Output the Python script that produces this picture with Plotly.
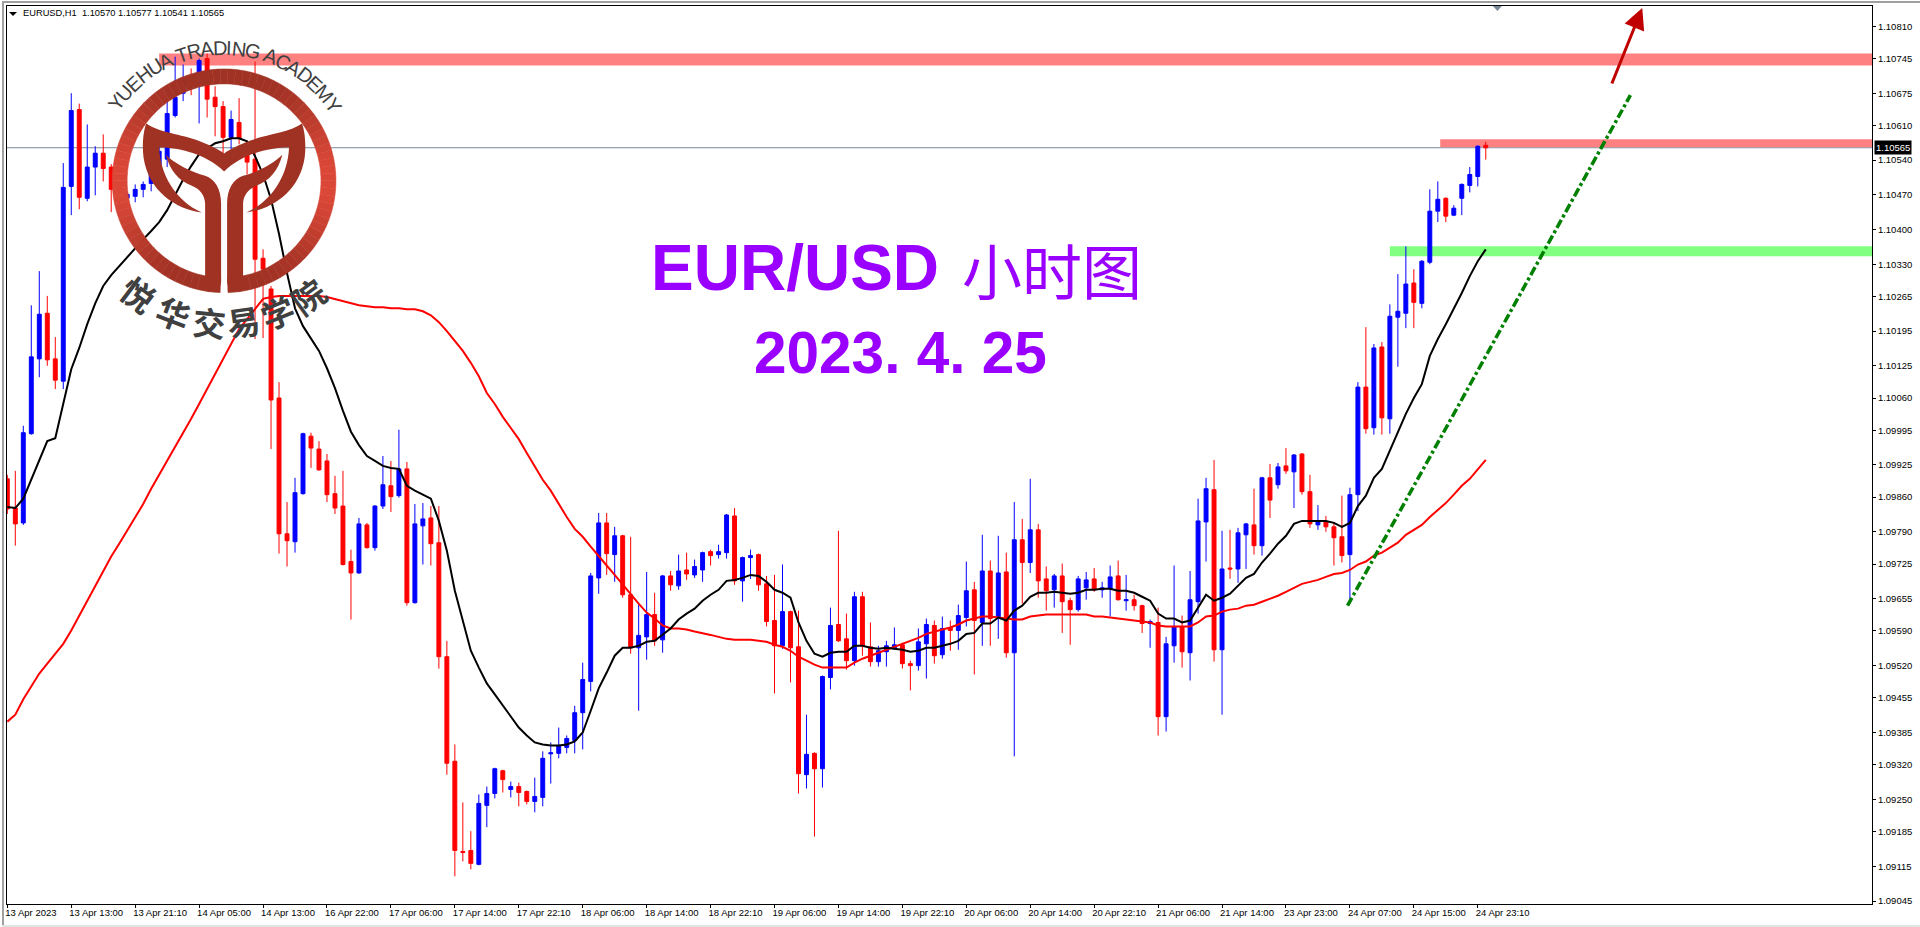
import numpy as np
import plotly.graph_objects as go

# EURUSD H1 candles, prices in 1e-5 units
opens = [109897,109838,109808,109988,110139,110231,110139,110094,110487,110642,110463,110526,110554,110526,110487,110463,110467,110481,110493,110517,
 110542,110630,110675,110709,110713,110745,110667,110648,110586,110616,110550,110542,110342,110280,110060,109786,109770,109867,109983,109957,
 109933,109867,109842,109730,109707,109804,109758,109842,109883,109863,109917,109647,109802,109818,109768,109538,109327,109145,109147,109119,
 109238,109262,109308,109270,109276,109266,109246,109254,109342,109343,109355,109369,109425,109488,109697,109808,109744,109782,109663,109556,
 109578,109623,109572,109701,109681,109713,109703,109713,109750,109744,109748,109822,109691,109738,109744,109685,109611,109560,109629,109558,
 109300,109343,109312,109496,109603,109574,109530,109659,109558,109528,109548,109554,109562,109524,109520,109564,109601,109542,109597,109591,
 109617,109673,109607,109711,109617,109709,109546,109774,109728,109794,109695,109673,109701,109651,109633,109677,109695,109673,109675,109701,
 109651,109653,109641,109605,109607,109417,109560,109599,109546,109649,109810,109875,109552,109717,109715,109784,109804,109762,109899,109885,
 109923,109911,109947,109871,109804,109810,109800,109780,109744,109865,110082,110000,110163,110018,110223,110231,110292,110251,110334,110437,
 110463,110429,110463,110489,110507,110570]
highs = [109905,109913,110004,110247,110316,110266,110183,110534,110675,110654,110612,110568,110592,110532,110497,110477,110491,110497,110528,110578,
 110659,110749,110733,110725,110745,110755,110689,110659,110640,110665,110568,110739,110360,110286,110092,109850,109899,109990,109990,109973,
 109947,109903,109913,109754,109818,109808,109844,109943,109933,109996,109931,109846,109848,109842,109842,109570,109361,109244,109186,109260,
 109276,109314,109310,109286,109284,109268,109294,109347,109365,109395,109379,109439,109526,109707,109828,109828,109800,109784,109780,109645,
 109709,109667,109703,109711,109744,109748,109734,109750,109754,109764,109826,109838,109740,109754,109746,109701,109703,109724,109631,109631,
 109421,109345,109500,109637,109792,109625,109669,109669,109607,109560,109570,109597,109566,109530,109595,109615,109611,109619,109611,109643,
 109730,109689,109784,109732,109782,109748,109850,109816,109897,109806,109720,109705,109726,109657,109701,109709,109717,109689,109722,109732,
 109703,109663,109643,109613,109637,109578,109722,109621,109711,109857,109899,109935,109792,109794,109798,109808,109877,109901,109927,109929,
 109959,109947,109949,109905,109844,109822,109810,109863,109879,110092,110203,110169,110173,110249,110310,110366,110320,110338,110481,110497,
 110465,110449,110493,110526,110570,110577]
lows = [109826,109762,109804,109986,110102,110125,110078,110078,110429,110441,110457,110469,110497,110435,110457,110459,110455,110465,110477,110515,
 110526,110626,110659,110671,110614,110626,110588,110554,110562,110572,110511,110179,110181,109957,109746,109720,109748,109865,109919,109913,
 109850,109826,109722,109613,109705,109756,109752,109836,109830,109859,109641,109645,109724,109722,109514,109300,109095,109125,109109,109117,
 109194,109252,109264,109254,109236,109240,109224,109236,109282,109333,109343,109343,109351,109468,109665,109703,109689,109657,109544,109429,
 109532,109560,109546,109671,109673,109693,109697,109689,109722,109736,109736,109683,109649,109695,109671,109599,109464,109554,109486,109262,
 109272,109175,109274,109472,109568,109512,109520,109540,109518,109518,109518,109552,109514,109470,109510,109494,109524,109534,109550,109552,
 109599,109502,109560,109560,109574,109536,109337,109645,109707,109657,109631,109637,109586,109562,109629,109653,109669,109657,109619,109651,
 109631,109631,109586,109556,109379,109387,109526,109516,109490,109625,109730,109528,109421,109695,109687,109715,109744,109742,109818,109877,
 109907,109838,109865,109798,109794,109790,109722,109728,109651,109832,109988,109986,109986,109988,110123,110201,110201,110241,110330,110415,
 110415,110427,110429,110475,110487,110541]
closes = [109836,109806,109990,110143,110229,110137,110096,110485,110640,110465,110526,110554,110523,110481,110473,110471,110481,110491,110514,110558,
 110634,110667,110703,110689,110741,110663,110648,110586,110622,110584,110536,110340,110320,110056,109786,109772,109869,109988,109959,109915,
 109865,109838,109724,109707,109806,109758,109842,109885,109861,109917,109647,109806,109816,109766,109538,109323,109147,109143,109121,109242,
 109262,109312,109290,109276,109264,109246,109256,109333,109344,109359,109373,109425,109492,109701,109808,109746,109782,109663,109556,109581,
 109623,109570,109701,109683,109711,109705,109720,109748,109742,109750,109824,109691,109738,109742,109683,109609,109560,109629,109556,109302,
 109341,109312,109498,109601,109570,109530,109659,109560,109528,109550,109560,109562,109524,109520,109568,109603,109540,109595,109591,109621,
 109671,109611,109711,109615,109707,109546,109774,109728,109794,109691,109671,109701,109649,109633,109695,109693,109673,109677,109699,109653,
 109653,109641,109605,109609,109417,109564,109599,109548,109653,109812,109877,109552,109715,109715,109788,109806,109762,109899,109854,109921,
 109913,109945,109871,109806,109812,109800,109778,109742,109865,110082,109998,110161,110020,110225,110235,110290,110253,110336,110437,110461,
 110427,110443,110491,110511,110568,110565]

ma_fast = [109840,109838,109857,109897,109933,109973,109979,110048,110118,110161,110209,110251,110286,110308,110326,110346,110362,110380,110397,110415,
 110439,110471,110501,110528,110552,110564,110574,110578,110584,110584,110578,110548,110511,110461,110391,110312,110241,110205,110181,110155,
 110120,110080,110034,109992,109965,109943,109933,109923,109919,109917,109883,109873,109865,109857,109812,109752,109671,109611,109550,109516,
 109484,109462,109439,109417,109395,109379,109365,109361,109359,109359,109361,109367,109385,109429,109474,109506,109540,109556,109556,109560,
 109568,109570,109582,109595,109613,109625,109635,109651,109663,109673,109691,109693,109697,109703,109701,109689,109673,109667,109657,109607,
 109570,109544,109538,109546,109548,109548,109560,109560,109556,109554,109556,109554,109552,109548,109550,109556,109556,109560,109564,109570,
 109584,109586,109605,109605,109617,109611,109631,109641,109659,109667,109667,109669,109667,109665,109667,109673,109673,109675,109675,109671,
 109671,109667,109659,109651,109625,109615,109615,109607,109611,109637,109663,109651,109657,109665,109681,109697,109705,109728,109746,109766,
 109782,109806,109812,109812,109812,109812,109808,109800,109808,109842,109863,109899,109917,109955,109992,110028,110060,110088,110145,110179,
 110209,110239,110272,110306,110336,110360]
ma_slow = [109407,109421,109452,109478,109504,109524,109544,109564,109591,109621,109651,109681,109711,109740,109766,109792,109818,109846,109877,109905,
 109933,109959,109988,110018,110048,110078,110108,110141,110171,110199,110219,110239,110260,110264,110266,110266,110266,110266,110266,110266,
 110264,110260,110255,110251,110247,110245,110243,110243,110241,110241,110239,110239,110235,110227,110213,110195,110175,110155,110131,110104,
 110070,110048,110022,110000,109977,109949,109921,109895,109873,109846,109820,109796,109780,109760,109742,109722,109703,109683,109665,109645,
 109627,109615,109601,109595,109595,109593,109589,109586,109582,109578,109574,109572,109572,109572,109570,109568,109562,109558,109550,109538,
 109530,109522,109516,109516,109516,109516,109526,109534,109540,109546,109552,109558,109564,109570,109576,109584,109589,109593,109597,109603,
 109611,109615,109619,109619,109617,109615,109613,109613,109619,109621,109623,109623,109623,109623,109623,109623,109619,109619,109617,109615,
 109613,109611,109609,109607,109601,109599,109599,109599,109599,109607,109619,109621,109629,109633,109635,109641,109643,109649,109655,109661,
 109669,109677,109685,109689,109693,109699,109705,109707,109713,109724,109730,109742,109748,109758,109768,109784,109794,109804,109820,109834,
 109848,109865,109883,109897,109915,109935]

y_ticks = [1.10810,1.10745,1.10675,1.10610,1.10540,1.10470,1.10400,1.10330,1.10265,1.10195,1.10125,1.10060,1.09995,1.09925,
 1.09860,1.09790,1.09725,1.09655,1.09590,1.09520,1.09455,1.09385,1.09320,1.09250,1.09185,1.09115,1.09045]
x_labels = ["13 Apr 2023","13 Apr 13:00","13 Apr 21:10","14 Apr 05:00","14 Apr 13:00","16 Apr 22:00","17 Apr 06:00","17 Apr 14:00",
 "17 Apr 22:10","18 Apr 06:00","18 Apr 14:00","18 Apr 22:10","19 Apr 06:00","19 Apr 14:00","19 Apr 22:10","20 Apr 06:00",
 "20 Apr 14:00","20 Apr 22:10","21 Apr 06:00","21 Apr 14:00","23 Apr 23:00","24 Apr 07:00","24 Apr 15:00","24 Apr 23:10"]

last_price = 1.10565
# (first candle, low, high, colour)
zones = [(19, 1.10731, 1.10755, "#FF8080"), (179.3, 1.10566, 1.10582, "#FF8080"), (173, 1.10346, 1.10366, "#80FF80")]
trend_x = [167.7, 203.1]
trend_y = [1.09641, 1.10671]

idx = list(range(len(opens)))
prices = lambda vals: [v / 1e5 for v in vals]
W, H = 1920, 927
L, R, T, B = 5, 48, 5, 23
FONT = "Liberation Sans"


def px(x):
    return (x - L) / (W - L - R)


def py(y):
    return (H - B - y) / (H - T - B)


fig = go.Figure()
fig.add_trace(go.Candlestick(
    x=idx, open=prices(opens), high=prices(highs), low=prices(lows), close=prices(closes),
    increasing=dict(line=dict(color="#0000FF", width=1), fillcolor="#0000FF"),
    decreasing=dict(line=dict(color="#FF0000", width=1), fillcolor="#FF0000"),
    whiskerwidth=0, hoverinfo="skip", showlegend=False,
))
fig.add_trace(go.Scatter(x=idx, y=prices(ma_slow), mode="lines", line=dict(color="#FF0000", width=2),
                         hoverinfo="skip", showlegend=False))
fig.add_trace(go.Scatter(x=idx, y=prices(ma_fast), mode="lines", line=dict(color="#000000", width=2),
                         hoverinfo="skip", showlegend=False))
fig.add_trace(go.Scatter(x=trend_x, y=trend_y, mode="lines",
                         line=dict(color="#008000", width=3.5, dash="9px,3px,3px,3px"),
                         hoverinfo="skip", showlegend=False))

shapes = []
for start, lo, hi, col in zones:
    shapes.append(dict(type="rect", xref="x", yref="y", x0=start, x1=233.4, y0=lo, y1=hi,
                       fillcolor=col, line_width=0, layer="below"))
shapes.append(dict(type="line", xref="paper", yref="y", x0=0, x1=1, y0=last_price, y1=last_price,
                   line=dict(color="#778899", width=1), layer="below"))


def tri(x, y, w, h, col):
    path = f"M {px(x - w)} {py(y)} L {px(x + w)} {py(y)} L {px(x)} {py(y + h)} Z"
    return dict(type="path", xref="paper", yref="paper", path=path, fillcolor=col, line_width=0)


shapes.append(tri(11, 11, 4, 4, "#000000"))
shapes.append(tri(1497, 5, 4.5, 5, "#778899"))

# window frame
for x0, x1, y0, y1, col in [(0, 2, 0, 927, "#A0A0A0"), (0, 1920, 0, 2, "#A0A0A0"), (0, 1920, 925, 927, "#E4E4E4")]:
    shapes.append(dict(type="rect", xref="paper", yref="paper", x0=px(x0), x1=px(x1), y0=py(y1), y1=py(y0),
                       fillcolor=col, line_width=0))

# logo ring, shaded by distance from the middle
cx, cy = 222.3, 180.0
r_out, r_in = 112.0, 97.0
steps = np.linspace(2, 358, 90)
for a0, a1 in zip(steps[:-1], steps[1:]):
    arc = np.radians(np.linspace(a0, a1, 4))
    xs = np.r_[cx + r_out * np.sin(arc), cx + r_in * np.sin(arc[::-1])]
    ys = np.r_[cy + r_out * np.cos(arc), cy + r_in * np.cos(arc[::-1])]
    t = abs(np.sin(np.radians((a0 + a1) / 2))) ** 4
    col = "rgb(%d,%d,%d)" % (160 + 60 * t, 50 + 22 * t, 36 + 20 * t)
    path = "M " + " L ".join(f"{px(a)} {py(b)}" for a, b in zip(xs, ys)) + " Z"
    shapes.append(dict(type="path", xref="paper", yref="paper", path=path, fillcolor=col,
                       line=dict(color=col, width=0.5)))

# ox head, traced in 3x zoom units, mirrored about x=667
head = [("M", 433, 368), ("C", 470, 395, 540, 400, 590, 420), ("C", 620, 432, 650, 445, 667, 458),
        ("C", 684, 445, 714, 432, 744, 420), ("C", 794, 400, 864, 395, 901, 368),
        ("C", 909, 390, 914, 430, 909, 470), ("C", 894, 570, 814, 625, 734, 635),
        ("C", 814, 600, 859, 520, 862, 440), ("C", 800, 440, 720, 460, 667, 512),
        ("C", 614, 460, 534, 440, 472, 440), ("C", 475, 520, 520, 600, 600, 635),
        ("C", 520, 625, 440, 570, 425, 470), ("C", 420, 430, 425, 390, 433, 368)]
trunk_l = [("M", 492, 462), ("C", 520, 490, 570, 515, 610, 525), ("C", 640, 535, 658, 565, 658, 610),
           ("L", 658, 845), ("C", 655, 865, 640, 873, 620, 873), ("L", 600, 860), ("L", 610, 825), ("L", 610, 610),
           ("C", 610, 585, 595, 565, 570, 555), ("C", 530, 540, 505, 510, 492, 462)]
trunk_r = [(s[0],) + tuple(v if i % 2 else 1334 - v for i, v in enumerate(s[1:])) for s in trunk_l]


def to_path(segs):
    out = []
    for seg in segs:
        pts = seg[1:]
        coords = " ".join(f"{px(pts[i] / 3)} {py(pts[i + 1] / 3)}" for i in range(0, len(pts), 2))
        out.append(f"{seg[0]} {coords}")
    return " ".join(out) + " Z"


for segs in (head, trunk_l, trunk_r):
    shapes.append(dict(type="path", xref="paper", yref="paper", path=to_path(segs),
                       fillcolor="#A03224", line_width=0))

notes = []


def note(text, x, y, size, color="#000000", family=FONT, angle=0, anchor="center", **kw):
    notes.append(dict(text=text, xref="paper", yref="paper", x=px(x), y=py(y), xanchor=anchor, yanchor="middle",
                      showarrow=False, textangle=angle, font=dict(family=family, size=size, color=color), **kw))


note("EURUSD,H1  1.10570 1.10577 1.10541 1.10565", 19.5, 12, 9.3, anchor="left")
note("<b>EUR/USD</b>", 794, 267, 64, color="#9900FF")
note("小时图", 1051, 268, 60, color="#9900FF", family="Noto Sans CJK SC")
note("<b>2023. 4. 25</b>", 899, 352, 58.5, color="#9900FF")

# arc lettering round the logo
word = "YUEHUA TRADING ACADEMY"
em = dict(zip("YUEHATRDINGCM ", [.667, .722, .667, .722, .667, .611, .722, .722, .278, .722, .778, .722, .833, .278]))
widths = np.array([em[c] for c in word]) * 18.8
mids = np.cumsum(widths) - widths / 2
theta = mids / 133.0 - widths.sum() / 266.0 + np.radians(0.5)
for ch, th in zip(word, theta):
    if ch != " ":
        note(ch, cx + 133 * np.sin(th), cy - 133 * np.cos(th), 20, color="#404040", angle=float(np.degrees(th)))
for ch, deg in zip("悦华交易学院", [-37, -21, -6, 8, 22, 36]):
    th = np.radians(deg)
    note(f"<b>{ch}</b>", cx + 142 * np.sin(th), cy + 142 * np.cos(th), 33, color="#404040",
         family="Noto Sans CJK SC", angle=-deg)

# arrow above the trend line
notes.append(dict(xref="paper", yref="paper", x=px(1642), y=py(7), ax=-31, ay=77, showarrow=True, text="",
                  arrowcolor="#C00000", arrowwidth=3, arrowhead=2, arrowsize=1.4))
# current price tag
notes.append(dict(xref="paper", yref="y", x=px(1874), y=last_price, text="1.10565", showarrow=False, xanchor="left",
                  yanchor="middle", bgcolor="#000000", borderpad=1, font=dict(family=FONT, size=9.5, color="#FFFFFF")))

fig.update_layout(
    width=W, height=H, margin=dict(l=L, r=R, t=T, b=B), autosize=False,
    paper_bgcolor="#FFFFFF", plot_bgcolor="#FFFFFF", boxgap=0.3, showlegend=False,
    shapes=shapes, annotations=notes, hovermode=False,
    font=dict(family=FONT, size=9.5, color="#000000"),
)
fig.update_xaxes(range=[-0.04, 233.33], tickmode="array", tickvals=list(range(0, 192, 8)), ticktext=x_labels,
                 ticks="outside", ticklen=3, tickcolor="#000000", ticklabelposition="outside right",
                 ticklabelshift=-3, showgrid=False, zeroline=False, showline=True, mirror=True,
                 linecolor="#000000", linewidth=1, rangeslider_visible=False)
fig.update_yaxes(range=[1.09039, 1.10851], side="right", tickmode="array", tickvals=y_ticks, tickformat=".5f",
                 ticks="outside", ticklen=3, tickcolor="#000000",
                 showgrid=False, zeroline=False, showline=True, mirror=True, linecolor="#000000", linewidth=1)

assert len(opens) == len(highs) == len(lows) == len(closes) == len(ma_fast) == len(ma_slow) == 186
fig.write_html("out.html", config=dict(displayModeBar=False),
               post_script="document.body.style.margin='0';document.body.style.overflow='hidden';")
